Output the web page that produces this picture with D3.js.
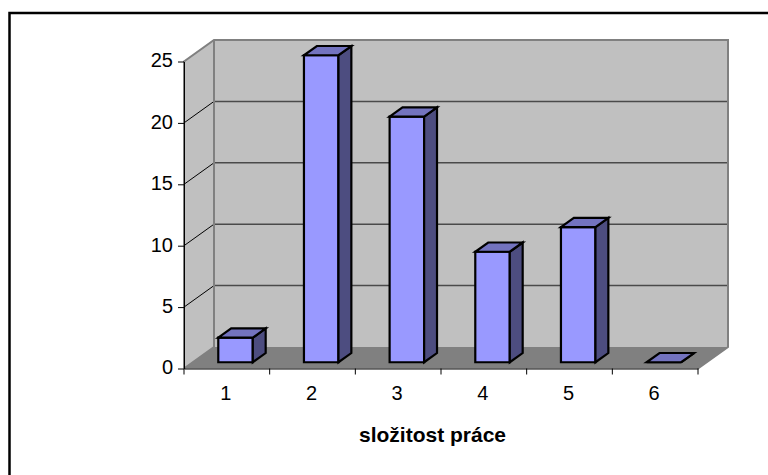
<!DOCTYPE html>
<html>
<head>
<meta charset="utf-8">
<script src="https://cdn.jsdelivr.net/npm/d3@7"></script>
<style>
  html, body { margin: 0; padding: 0; background: #fff; }
  svg { display: block; }
  text { font-family: "Liberation Sans", Arial, sans-serif; fill: #000; }
</style>
</head>
<body>
<div id="chart"></div>
<script>
const categories = ["1", "2", "3", "4", "5", "6"];
const values = [2, 25, 20, 9, 11, 0];
const yTicks = [0, 5, 10, 15, 20, 25];
const xTitle = "složitost práce";

const svg = d3.select("#chart").append("svg")
    .attr("width", 768)
    .attr("height", 475);

// outer frame, only top and left are visible in the picture
svg.append("path")
    .attr("d", "M9.5,475V13H768")
    .attr("fill", "none")
    .attr("stroke", "#000")
    .attr("stroke-width", 2.5);

const x = d3.scaleBand().domain(categories).range([184, 698]);
const y = d3.scaleLinear().domain([0, 25]).range([368.5, 61.5]);

// 3d depth of the box
const depth = {dx: 30, dy: -21.5};
const barStart = 0.29, barEnd = 0.72, barWidth = 34.5;

const line = d3.line();
const x0 = x.range()[0], x1 = x.range()[1];
const yBase = y(0), yTop = y(25);

// walls and floor
svg.append("path")
    .attr("d", line([[x0 + depth.dx, yTop + depth.dy], [x1 + depth.dx, yTop + depth.dy], [x1 + depth.dx, yBase + depth.dy], [x0 + depth.dx, yBase + depth.dy]]) + "Z")
    .attr("fill", "#c0c0c0");
svg.append("path")
    .attr("d", line([[x0, yTop], [x0 + depth.dx, yTop + depth.dy], [x0 + depth.dx, yBase + depth.dy], [x0, yBase]]) + "Z")
    .attr("fill", "#c0c0c0");
svg.append("path")
    .attr("d", line([[x0, yBase], [x0 + depth.dx, yBase + depth.dy], [x1 + depth.dx, yBase + depth.dy], [x1, yBase]]) + "Z")
    .attr("fill", "#808080");

// gridlines on both walls
const grid = svg.append("g");
yTicks.slice(1, -1).forEach(function(t) {
    grid.append("path")
        .attr("d", line([[x0 + depth.dx, y(t) + depth.dy], [x1 + depth.dx, y(t) + depth.dy]]))
        .attr("fill", "none").attr("stroke", "#4a4a4a").attr("stroke-width", 1.5);
    grid.append("path")
        .attr("d", line([[x0, y(t)], [x0 + depth.dx, y(t) + depth.dy]]))
        .attr("fill", "none").attr("stroke", "#000").attr("stroke-width", 1);
});

// wall edges
svg.append("path")
    .attr("d", line([[x0, yBase], [x0, yTop], [x0 + depth.dx, yTop + depth.dy], [x1 + depth.dx, yTop + depth.dy], [x1 + depth.dx, yBase + depth.dy], [x1, yBase]]))
    .attr("fill", "none").attr("stroke", "#808080").attr("stroke-width", 2);
svg.append("path")
    .attr("d", line([[x0 + depth.dx, yTop + depth.dy], [x0 + depth.dx, yBase + depth.dy], [x0, yBase]]))
    .attr("fill", "none").attr("stroke", "#808080").attr("stroke-width", 2);

// axes
const yAxis = svg.append("g")
    .attr("transform", `translate(${x0}, 0)`)
    .call(d3.axisLeft(y).tickValues(yTicks).tickSize(6).tickSizeOuter(0));
yAxis.selectAll("text").attr("font-size", 20).attr("dx", "-2px").attr("dy", "0.27em");
yAxis.select(".domain").attr("stroke", "#000").attr("stroke-width", 1);

const xAxis = svg.append("g")
    .attr("transform", `translate(0, ${yBase})`)
    .call(d3.axisBottom(x).tickSize(0));
xAxis.selectAll("text").attr("font-size", 20).attr("dy", "0").attr("y", 31).attr("dx", "-1px");
xAxis.select(".domain").attr("stroke", "#000").attr("stroke-width", 1);
xAxis.selectAll(".sep")
    .data(categories.concat("end"))
    .join("line")
    .attr("class", "sep")
    .attr("x1", (d, i) => x0 + i * x.step())
    .attr("x2", (d, i) => x0 + i * x.step())
    .attr("y1", 0)
    .attr("y2", 6)
    .attr("stroke", "#000");

// bars
const bars = svg.selectAll(".bar")
    .data(values)
    .join("g")
    .attr("class", "bar")
    .attr("stroke", "#000")
    .attr("stroke-width", 2.2)
    .attr("stroke-linejoin", "miter");

function corners(v, i) {
    const cx = x(categories[i]) + x.bandwidth() / 2 + depth.dx * barStart;
    return {
        l: cx - barWidth / 2,
        r: cx + barWidth / 2,
        b: yBase + depth.dy * barStart,
        t: y(v) + depth.dy * barStart,
        dx: depth.dx * (barEnd - barStart),
        dy: depth.dy * (barEnd - barStart)
    };
}

bars.append("path")
    .attr("fill", "#9999ff")
    .attr("d", (v, i) => {
        const c = corners(v, i);
        return line([[c.l, c.b], [c.l, c.t], [c.r, c.t], [c.r, c.b]]) + "Z";
    });
bars.append("path")
    .attr("fill", "#4d4d80")
    .attr("d", (v, i) => {
        const c = corners(v, i);
        return line([[c.r, c.b], [c.r, c.t], [c.r + c.dx, c.t + c.dy], [c.r + c.dx, c.b + c.dy]]) + "Z";
    });
bars.append("path")
    .attr("fill", "#7373bf")
    .attr("d", (v, i) => {
        const c = corners(v, i);
        return line([[c.l, c.t], [c.r, c.t], [c.r + c.dx, c.t + c.dy], [c.l + c.dx, c.t + c.dy]]) + "Z";
    });

// axis title
svg.append("text")
    .attr("x", 432.5)
    .attr("y", 441.5)
    .attr("text-anchor", "middle")
    .attr("font-size", 21)
    .attr("font-weight", "bold")
    .text(xTitle);
</script>
</body>
</html>
